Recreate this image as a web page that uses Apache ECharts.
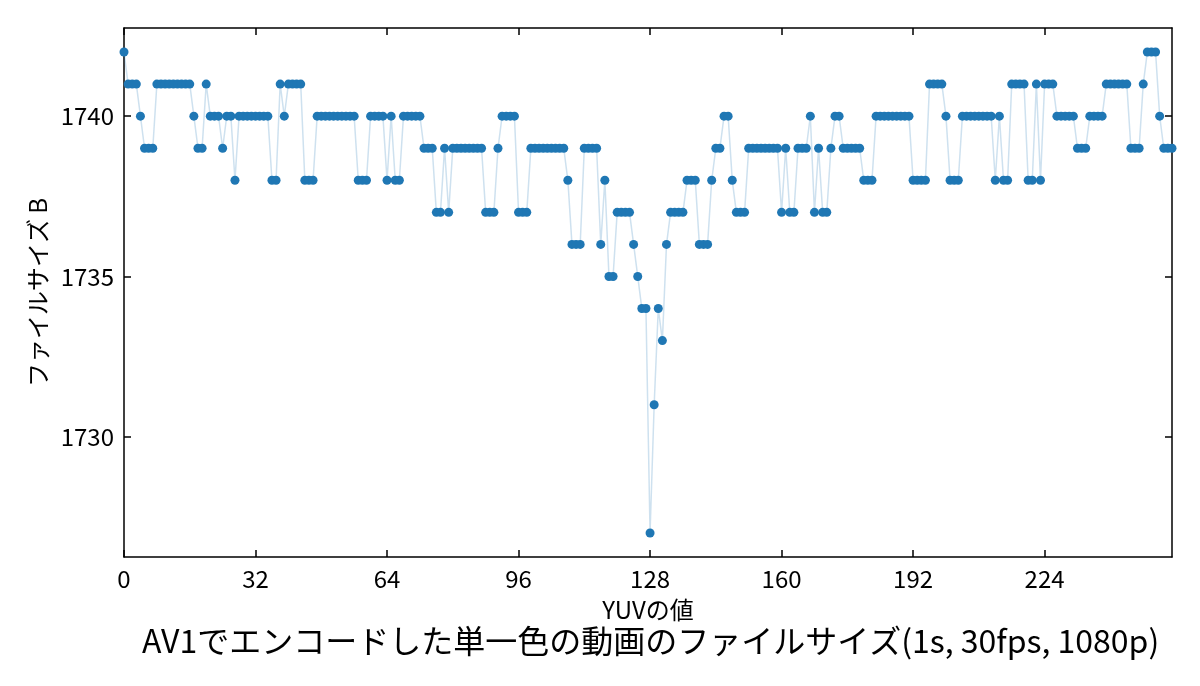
<!DOCTYPE html>
<html>
<head>
<meta charset="utf-8">
<script src="https://cdn.jsdelivr.net/npm/echarts@6/dist/echarts.min.js"></script>
<style>
  html, body { margin: 0; background: #fff; }
  #chart { width: 1200px; height: 686px; }
</style>
</head>
<body>
<div id="chart"></div>
<script>
// tick labels
const yuvTicks = [0, 32, 64, 96, 128, 160, 192, 224];
const sizeTicks = [1730, 1735, 1740];

// file size (bytes) for YUV value 0..255
const fileSize = [
  1742,1741,1741,1741,1740,1739,1739,1739,1741,1741,1741,1741,1741,1741,1741,1741,
  1741,1740,1739,1739,1741,1740,1740,1740,1739,1740,1740,1738,1740,1740,1740,1740,
  1740,1740,1740,1740,1738,1738,1741,1740,1741,1741,1741,1741,1738,1738,1738,1740,
  1740,1740,1740,1740,1740,1740,1740,1740,1740,1738,1738,1738,1740,1740,1740,1740,
  1738,1740,1738,1738,1740,1740,1740,1740,1740,1739,1739,1739,1737,1737,1739,1737,
  1739,1739,1739,1739,1739,1739,1739,1739,1737,1737,1737,1739,1740,1740,1740,1740,
  1737,1737,1737,1739,1739,1739,1739,1739,1739,1739,1739,1739,1738,1736,1736,1736,
  1739,1739,1739,1739,1736,1738,1735,1735,1737,1737,1737,1737,1736,1735,1734,1734,
  1727,1731,1734,1733,1736,1737,1737,1737,1737,1738,1738,1738,1736,1736,1736,1738,
  1739,1739,1740,1740,1738,1737,1737,1737,1739,1739,1739,1739,1739,1739,1739,1739,
  1737,1739,1737,1737,1739,1739,1739,1740,1737,1739,1737,1737,1739,1740,1740,1739,
  1739,1739,1739,1739,1738,1738,1738,1740,1740,1740,1740,1740,1740,1740,1740,1740,
  1738,1738,1738,1738,1741,1741,1741,1741,1740,1738,1738,1738,1740,1740,1740,1740,
  1740,1740,1740,1740,1738,1740,1738,1738,1741,1741,1741,1741,1738,1738,1741,1738,
  1741,1741,1741,1740,1740,1740,1740,1740,1739,1739,1739,1740,1740,1740,1740,1741,
  1741,1741,1741,1741,1741,1739,1739,1739,1741,1742,1742,1742,1740,1739,1739,1739
];

const jpFont = '"Noto Sans CJK JP", sans-serif';

const chart = echarts.init(document.getElementById('chart'));

//枠線と目盛り（内向き）
function frameAxis(extra) {
  return Object.assign({
    type: 'value',
    axisLine: { show: true, onZero: false, lineStyle: { color: '#000', width: 1.5 } },
    axisTick: { show: true, inside: true, length: 7, lineStyle: { color: '#000', width: 1.5 } },
    splitLine: { show: false },
    axisLabel: { show: false }
  }, extra);
}

function ticks(values) {
  return { show: true, inside: true, length: 7, customValues: values,
    lineStyle: { color: '#000', width: 1.5 } };
}

const option = {
  animation: false,
  backgroundColor: '#fff',
  title: {
    text: 'AV1でエンコードした単一色の動画のファイルサイズ(1s, 30fps, 1080p)',
    left: 137,
    top: 620,
    textStyle: { fontFamily: jpFont, fontSize: 32, fontWeight: 'normal', color: '#000' }
  },
  grid: { left: 124, right: 28, top: 28, bottom: 129 },
  xAxis: [
    frameAxis({
      min: 0, max: 255, position: 'bottom',
      axisTick: ticks(yuvTicks),
      axisLabel: { show: true, customValues: yuvTicks, margin: 10,
        fontFamily: jpFont, fontSize: 24, color: '#000' },
      name: 'YUVの値',
      nameLocation: 'middle',
      nameGap: 41,
      nameTextStyle: { fontFamily: jpFont, fontSize: 24, color: '#000' }
    }),
    frameAxis({ min: 0, max: 255, position: 'top', axisTick: ticks(yuvTicks) })
  ],
  yAxis: [
    frameAxis({
      min: 1726.25, max: 1742.75, position: 'left',
      axisTick: ticks(sizeTicks),
      axisLabel: { show: true, customValues: sizeTicks, margin: 10,
        formatter: v => String(v),
        fontFamily: jpFont, fontSize: 24, color: '#000' },
      name: 'ファイルサイズ B',
      nameLocation: 'middle',
      nameGap: 60,
      nameRotate: 90,
      nameTextStyle: { fontFamily: jpFont, fontSize: 24, color: '#000' }
    }),
    frameAxis({ min: 1726.25, max: 1742.75, position: 'right', axisTick: ticks(sizeTicks) })
  ],
  series: [{
    type: 'line',
    xAxisIndex: 0,
    yAxisIndex: 0,
    data: fileSize.map((v, i) => [i, v]),
    symbol: 'circle',
    symbolSize: 9,
    showAllSymbol: true,
    itemStyle: { color: '#1f77b4' },
    lineStyle: { color: 'rgba(31,119,180,0.22)', width: 1.5 },
    emphasis: { disabled: true }
  }]
};

chart.setOption(option);
</script>
</body>
</html>
